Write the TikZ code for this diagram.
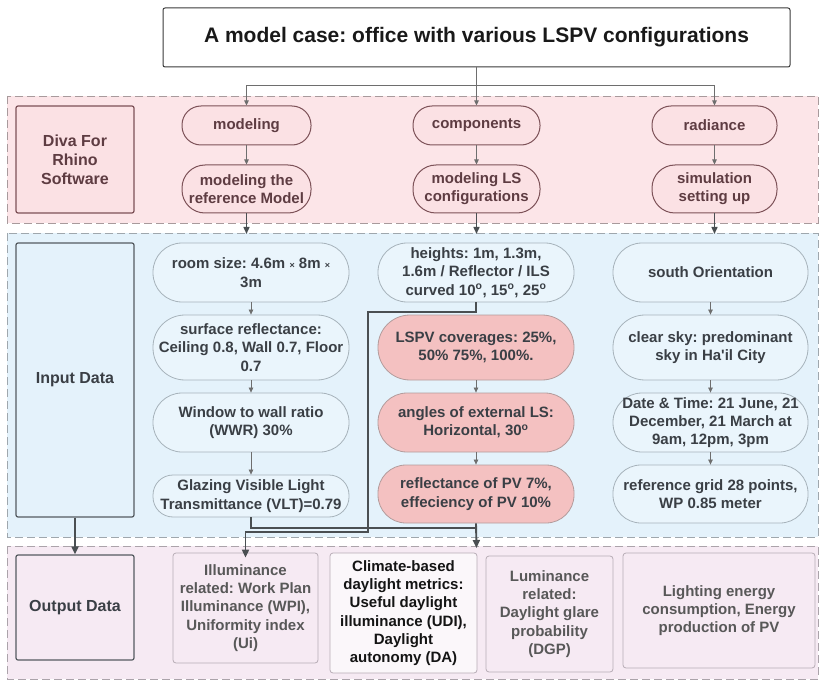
\documentclass[tikz,border=0pt]{standalone}
\usepackage{fontspec}
\setmainfont{Liberation Sans}
\usetikzlibrary{arrows.meta}
\frenchspacing
\definecolor{pinkband}{HTML}{FCE5E8}
\definecolor{pinknode}{HTML}{FBE1E4}
\definecolor{pinkline}{HTML}{7D5258}
\definecolor{pinktext}{HTML}{5E3C42}
\definecolor{pinkdash}{HTML}{A89A9C}
\definecolor{blueband}{HTML}{E4F2FB}
\definecolor{bluenode}{HTML}{EAF5FC}
\definecolor{blueline}{HTML}{A7B3BB}
\definecolor{bluetext}{HTML}{3A3F45}
\definecolor{bluedash}{HTML}{9FA7AD}
\definecolor{rednode}{HTML}{F4C1C1}
\definecolor{redline}{HTML}{B39C9C}
\definecolor{outband}{HTML}{F6EAF3}
\definecolor{outnode}{HTML}{F6EAF3}
\definecolor{outline}{HTML}{B7ACB5}
\definecolor{outtext}{HTML}{585858}
\definecolor{outdash}{HTML}{ABA3AA}
\definecolor{sideline}{HTML}{555B60}
\definecolor{conn}{HTML}{6E6E6E}
\definecolor{connd}{HTML}{4A4F52}
\definecolor{titleline}{HTML}{3A3A3A}
\newcommand\bodyfont{\fontsize{15}{18.3}\selectfont\bfseries}
\newcommand\bigfont{\fontsize{16}{19}\selectfont\bfseries}
\newcommand\titlefont{\fontsize{21}{24}\selectfont\bfseries}
\newcommand\smx{{\fontsize{9}{9}\selectfont ×}}
\begin{document}
\begin{tikzpicture}[x=1pt,y=-1pt,
  band/.style={dash pattern=on 8pt off 4pt, line width=0.9pt},
  every node/.style={inner sep=0pt, align=center, font=\bodyfont},
  toppill/.style={draw=pinkline, fill=pinknode, text=pinktext, line width=1pt},
  inpill/.style={draw=blueline, fill=bluenode, text=bluetext, line width=0.8pt},
  redpill/.style={draw=redline, fill=rednode, text=bluetext, line width=0.8pt},
  outbox/.style={draw=outline, fill=outnode, text=outtext, line width=0.8pt, rounded corners=3pt},
  sidebox/.style={line width=1.2pt, rounded corners=2pt, font=\bigfont},
  thinarrow/.style={draw=conn, line width=0.7pt, -{Triangle[length=5pt,width=4.5pt]}},
  midarrow/.style={draw=connd, line width=1.4pt, -{Triangle[length=7pt,width=6pt]}},
  boldline/.style={draw=connd, line width=1.9pt},
  boldarrow/.style={draw=connd, line width=1.9pt, -{Triangle[length=8pt,width=7pt]}},
]
\useasboundingbox (0,0) rectangle (820,682);

% bands
\path[band, fill=pinkband, draw=pinkdash] (7,96) rectangle (818,223);
\path[band, fill=blueband, draw=bluedash] (7,233) rectangle (818,537);
\path[band, fill=outband, draw=outdash] (7,546) rectangle (818,679);

% title
\node[draw=titleline, fill=white, line width=1pt, rounded corners=2pt,
      minimum width=627pt, minimum height=59pt, font=\titlefont, text=black!90]
      (title) at (476.5,37.5) {A model case: office with various LSPV configurations};

% top band
\node[sidebox, draw=pinkline, fill=pinknode, text=pinktext, minimum width=118pt, minimum height=107pt]
      (diva) at (75,159.5) {Diva For\\Rhino\\Software};
\node[toppill, minimum width=129pt, minimum height=39pt, rounded corners=19pt] (modeling) at (246.5,125.5) {modeling};
\node[toppill, minimum width=127pt, minimum height=39pt, rounded corners=19pt] (components) at (476.5,125.5) {components};
\node[toppill, minimum width=125pt, minimum height=39pt, rounded corners=19pt] (radiance) at (714.5,125.5) {radiance};
\node[toppill, minimum width=129pt, minimum height=48pt, rounded corners=23pt] (mref) at (246.5,189) {modeling the\\reference Model};
\node[toppill, minimum width=127pt, minimum height=48pt, rounded corners=23pt] (mls) at (476.5,189) {modeling LS\\configurations};
\node[toppill, minimum width=125pt, minimum height=48pt, rounded corners=23pt] (sim) at (714.5,189) {simulation\\setting up};

% input band
\node[sidebox, draw=sideline, fill=blueband, text=bluetext, minimum width=118pt, minimum height=274pt]
      (indata) at (75,380) {Input Data};
\node[inpill, minimum width=196pt, minimum height=59pt, rounded corners=29pt] (room) at (251,272.5) {room size: 4.6m \smx{} 8m \smx\\3m};
\node[inpill, minimum width=196pt, minimum height=65pt, rounded corners=32pt] (surface) at (251,347.5) {surface reflectance:\\Ceiling 0.8, Wall 0.7, Floor\\0.7};
\node[inpill, minimum width=196pt, minimum height=59pt, rounded corners=29pt] (window) at (251,422.5) {Window to wall ratio\\(WWR) 30\%};
\node[inpill, minimum width=196pt, minimum height=42pt, rounded corners=20pt] (glazing) at (251,496) {Glazing Visible Light\\Transmittance (VLT)=0.79};

\node[inpill, minimum width=196pt, minimum height=59pt, rounded corners=29pt] (heights) at (476,272.5) {heights: 1m, 1.3m,\\1.6m / Reflector / ILS\\curved 10\textsuperscript{o}, 15\textsuperscript{o}, 25\textsuperscript{o}};
\node[redpill, minimum width=196pt, minimum height=65pt, rounded corners=32pt] (lspv) at (476,347.5) {LSPV coverages: 25\%,\\50\% 75\%, 100\%.};
\node[redpill, minimum width=196pt, minimum height=59pt, rounded corners=29pt] (angles) at (476,422.5) {angles of external LS:\\Horizontal, 30\textsuperscript{o}};
\node[redpill, minimum width=196pt, minimum height=58pt, rounded corners=28pt] (refl) at (476,494) {reflectance of PV 7\%,\\effeciency of PV 10\%};

\node[inpill, minimum width=195pt, minimum height=59pt, rounded corners=29pt] (south) at (710.5,272.5) {south Orientation};
\node[inpill, minimum width=195pt, minimum height=65pt, rounded corners=32pt] (clear) at (710.5,347.5) {clear sky: predominant\\sky in Ha\textquotesingle il City};
\node[inpill, minimum width=195pt, minimum height=59pt, rounded corners=29pt] (date) at (710.5,422.5) {Date \& Time: 21 June, 21\\December, 21 March at\\9am, 12pm, 3pm};
\node[inpill, minimum width=195pt, minimum height=58pt, rounded corners=28pt] (grid) at (710.5,494) {reference grid 28 points,\\WP 0.85 meter};

% output band
\node[sidebox, draw=sideline, fill=outband, text=bluetext, minimum width=118pt, minimum height=105pt]
      (outdata) at (75,607.5) {Output Data};
\node[outbox, minimum width=145pt, minimum height=110pt] (illum) at (245.5,608) {Illuminance\\related: Work Plan\\Illuminance (WPI),\\Uniformity index\\(Ui)};
\node[outbox, fill=white!60!outnode, text=black!92, minimum width=147pt, minimum height=120pt] (climate) at (403.5,613) {Climate-based\\daylight metrics:\\Useful daylight\\illuminance (UDI),\\Daylight\\autonomy (DA)};
\node[outbox, minimum width=127pt, minimum height=116pt] (lum) at (549.5,614) {Luminance\\related:\\Daylight glare\\probability\\(DGP)};
\node[outbox, minimum width=192pt, minimum height=115pt] (lighting) at (719,610.5) {Lighting energy\\consumption, Energy\\production of PV};

% connectors: title to top band
\coordinate (j0) at (476.5,85);
\draw[thinarrow] (title.south) -- (components.north);
\draw[thinarrow] (j0) -| (modeling.north);
\draw[thinarrow] (j0) -| (radiance.north);
\draw[thinarrow] (modeling) -- (mref);
\draw[thinarrow] (components) -- (mls);
\draw[thinarrow] (radiance) -- (sim);

% top band to input band
\coordinate (e1) at (246.5,234);
\coordinate (e2) at (476.5,234);
\coordinate (e3) at (714.5,234);
\draw[midarrow] (mref.south) -- (e1);
\draw[midarrow] (mls.south) -- (e2);
\draw[midarrow] (sim.south) -- (e3);

% within columns
\draw[thinarrow] (room) -- (surface);
\draw[thinarrow] (surface) -- (window);
\draw[thinarrow] (window) -- (glazing);
\draw[thinarrow] (lspv) -- (angles);
\draw[thinarrow] (angles) -- (refl);
\draw[thinarrow] (south) -- (clear);
\draw[thinarrow] (clear) -- (date);
\draw[thinarrow] (date) -- (grid);

% input to output
\draw[boldarrow] (indata.south) -- (outdata.north);
\coordinate (hA) at (368,312);
\coordinate (hB) at (368,532);
\draw[boldarrow] (heights.south) |- (hA) -- (hB) -| ([yshift=-5pt]illum.north);
\coordinate (oC) at (476.5,548);
\coordinate (gJ) at (476.5,528);
\draw[boldarrow] (refl.south) -- (oC);
\draw[boldline] (glazing.south) |- (gJ);
\end{tikzpicture}
\end{document}
